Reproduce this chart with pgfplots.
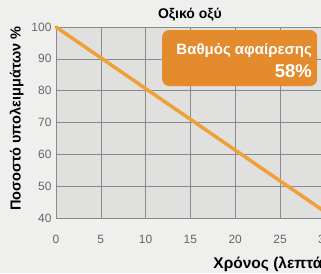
\documentclass[border=0pt]{standalone}
\usepackage{pgfplots}
\pgfplotsset{compat=1.18}
\usepackage{fontspec}
\setmainfont{Liberation Sans}
\definecolor{bgout}{HTML}{EFEFEE}
\definecolor{bgplot}{HTML}{E0E0DF}
\definecolor{gridc}{HTML}{8A8A8A}
\definecolor{linec}{HTML}{F0A03A}
\definecolor{boxc}{HTML}{E38B2D}
\definecolor{tickc}{HTML}{666666}
\begin{document}
\begin{tikzpicture}[x=1pt,y=1pt]
\path[use as bounding box] (0,0) rectangle (321,273);
\clip (0,0) rectangle (321,273);
\fill[bgout] (0,0) rectangle (321,273);
\begin{axis}[
  at={(56pt,55pt)}, anchor=south west,
  scale only axis, width=277.8pt, height=191pt,
  xmin=0, xmax=31, ymin=40, ymax=100,
  xtick={0,5,...,30}, ytick={40,50,...,100},
  grid=major,
  major grid style={gridc, line width=0.6pt},
  axis background/.style={fill=bgplot},
  axis line style={draw=none},
  tick style={draw=none},
  /pgf/number format/assume math mode=true,
  ticklabel style={font=\fontsize{12}{14}\selectfont, text=tickc},
  xticklabel style={yshift=-14pt},
  yticklabel style={xshift=-1pt},
  title={\textbf{Οξικό οξύ}},
  title style={at={(0.482,1)}, anchor=south, yshift=-4pt, font=\fontsize{14}{16}\selectfont},
  xlabel={\textbf{Χρόνος (λεπτά)}},
  xlabel style={at={(0.554,0)}, anchor=north west, yshift=-35pt, font=\fontsize{15.5}{18}\selectfont},
  ylabel={\textbf{Ποσοστό υπολειμμάτων \%}},
  ylabel style={at={(0,0.52)}, anchor=south, yshift=29pt, font=\fontsize{14.5}{17}\selectfont},
  clip=false,
]
\addplot[linec, line width=3.5pt, line cap=round] coordinates {(0,100) (30,42) (32,38.1)};
\fill[boxc, rounded corners=7pt] (rel axis cs:0.382,0.691) rectangle (rel axis cs:0.94,0.984);
\node[anchor=east, text=white, font=\bfseries\fontsize{15}{17}\selectfont, inner sep=0pt] at (rel axis cs:0.922,0.878) {Βαθμός αφαίρεσης};
\node[anchor=east, text=white, font=\bfseries\fontsize{18.5}{20}\selectfont, inner sep=0pt] at (rel axis cs:0.922,0.77) {58\%};
\end{axis}
\end{tikzpicture}
\end{document}
